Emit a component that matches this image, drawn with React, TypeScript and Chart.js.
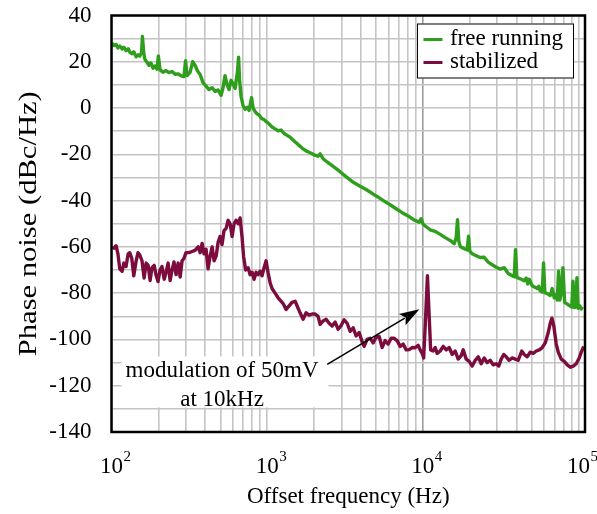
import React, { useEffect, useRef } from "react";
import { Chart, registerables } from "chart.js";

Chart.register(...registerables);

const FONT = '"Liberation Serif", "Times New Roman", serif';

// ---------- data ----------
const freeFreq = [
  101, 104, 107, 110, 113, 117, 120, 124, 128, 131,
  135, 139, 144, 148, 152, 156, 158, 161, 164, 169,
  174, 179, 185, 190, 196, 200, 205, 214, 224, 234,
  245, 256, 268, 280, 292, 299, 306, 320, 332, 344,
  357, 371, 387, 405, 423, 443, 463, 484, 506, 521,
  536, 553, 569, 586, 604, 622, 645, 655, 665, 680,
  700, 721, 743, 765, 794, 812, 836, 861, 887, 921,
  955, 991, 1029, 1075, 1124, 1175, 1229, 1285, 1343, 1404,
  1489, 1580, 1676, 1778, 1887, 2002, 2123, 2188, 2287, 2427,
  2614, 2814, 3031, 3311, 3618, 3954, 4320, 4722, 5160, 5640,
  6163, 6736, 7362, 8045, 8793, 9468, 9752, 10044, 10500, 11140,
  11995, 12922, 13910, 14981, 15890, 16368, 16690, 17010, 17370, 18430,
  19265, 19640, 20020, 20750, 22010, 23350, 24770, 26280, 27880, 29590,
  31400, 33310, 35340, 37490, 38620, 39370, 40140, 42210, 44770, 46120,
  47150, 48220, 50400, 52690, 54280, 55490, 56740, 58440, 59580, 60740,
  62930, 65790, 67760, 69800, 71900, 72970, 74400, 75830, 77420, 79390,
  81420, 83360, 85860, 88440, 90420, 92040, 93690, 95940, 97660, 99400,
  101800, 104100, 105600,
];
const freeValues = [
  28, 27, 27.5, 26, 26.8, 25.5, 26.3, 24.8, 25.6, 24.2,
  23.5, 24.3, 22.2, 23, 22.5, 24, 31, 24, 21, 19.8,
  18.5, 19.5, 17.2, 18.2, 16.8, 22.5, 16.5, 15.5, 16.2, 15.3,
  15.8, 14.6, 14.8, 13.9, 13.6, 20.5, 14, 15.5, 20, 18.5,
  16, 14.5, 11, 9.5, 8, 8.8, 7.2, 7.8, 5.5, 9,
  14, 10, 8, 12, 10.5, 8.5, 16, 22, 12, 5,
  1, -0.5, 0.3, -1, 4.5, 0, -1.5, -2.5, -3, -4.5,
  -5, -6, -6.8, -8.2, -9, -9.8, -9.5, -11, -11.8, -12.6,
  -14.2, -15.8, -17.3, -18.5, -19.3, -20.2, -20.8, -19.8, -21.9, -23.3,
  -24.9, -26.5, -28.3, -30.4, -32.3, -33.8, -35.2, -36.9, -38.5, -40.2,
  -41.8, -43.5, -45.2, -46.6, -48.4, -49.3, -47.8, -50.2, -51.3, -52.6,
  -53.3, -54.6, -56, -57.2, -58.6, -56, -48.2, -57.5, -59.8, -60.8,
  -61.3, -55.4, -61.8, -63, -63.8, -64.6, -64.5, -66.6, -67.7, -68.8,
  -69.6, -69, -71.5, -72.5, -72.9, -61.2, -73.2, -73.8, -74.6, -73.5,
  -76, -74, -76.8, -77.5, -78, -77, -79, -79.5, -66.9, -79.8,
  -80.2, -81, -78, -82, -80.5, -83, -70.5, -83, -80, -69,
  -84, -84.4, -85, -85.6, -86, -74.8, -86.2, -86, -73.3, -86.5,
  -85.5, -86.8, -85.8,
];

const stabFreq = [
  102, 107, 110, 113, 117, 120, 124, 128, 131, 135,
  139, 144, 148, 152, 157, 162, 167, 172, 177, 182,
  188, 193, 199, 205, 211, 218, 224, 231, 238, 245,
  252, 260, 268, 276, 284, 292, 301, 315, 329, 344,
  360, 371, 382, 393, 405, 417, 430, 443, 456, 470,
  484, 498, 513, 528, 545, 561, 578, 595, 613, 631,
  650, 670, 690, 705, 727, 754, 777, 800, 824, 849,
  874, 900, 927, 955, 984, 1013, 1044, 1075, 1124, 1175,
  1211, 1266, 1323, 1383, 1445, 1512, 1580, 1627, 1701, 1778,
  1859, 1944, 2032, 2123, 2188, 2287, 2391, 2499, 2614, 2732,
  2856, 2985, 3121, 3263, 3411, 3566, 3727, 3896, 4073, 4197,
  4386, 4585, 4793, 5011, 5237, 5475, 5724, 5984, 6255, 6539,
  6836, 7146, 7471, 7810, 8164, 8535, 8923, 9328, 9607, 9896,
  10120, 10420, 10700, 10980, 11220, 11650, 11995, 12360, 12922, 13510,
  14120, 14760, 15430, 16130, 16860, 17630, 18160, 18980, 19850, 20750,
  21690, 22670, 23700, 24770, 25890, 27070, 28300, 29590, 30700, 31850,
  33060, 34300, 35860, 37490, 39190, 40970, 43150, 44770, 46810, 48940,
  51160, 53480, 55910, 58440, 61090, 63870, 65790, 67450, 69270, 71900,
  74060, 77420, 80930, 84600, 88440, 92440, 96650, 101000, 104100, 108000,
];
const stabValues = [
  -61, -59.5, -63, -69.5, -70.5, -67, -68.5, -63, -62.5, -65,
  -72.5, -66, -62.5, -63.5, -66, -73.5, -67, -68, -74.5, -69,
  -68, -72, -75, -70, -68.5, -74, -71, -67, -74.5, -70,
  -66.5, -72, -67, -73, -66, -65, -62.5, -62.5, -62, -61.5,
  -60, -62.5, -58.5, -63, -61, -69.5, -64, -60, -66, -64,
  -58, -55.5, -59, -53, -52, -48.5, -50, -55.5, -50, -48.5,
  -50, -47.5, -56, -64, -70, -69, -72, -71, -74, -71,
  -72, -70.5, -72.5, -69, -66, -71, -75.5, -78, -80, -82,
  -83, -84.5, -87, -85.5, -84, -83.5, -86.5, -88.5, -91.3, -88.5,
  -89.5, -89, -89, -90, -93.5, -92, -91.3, -93, -94.2, -92.5,
  -95.6, -94, -91.5, -93, -96.5, -95, -98.5, -97, -101, -103,
  -100, -99.5, -101.5, -99, -98.7, -103.5, -100.5, -102, -99.5, -99.5,
  -100.5, -103, -102, -104.5, -104.4, -103.5, -103.6, -102.5, -104.5, -106,
  -108, -90, -72.5, -90, -104.5, -105, -103.5, -106, -105, -103,
  -104.5, -103.5, -106.5, -105, -108.5, -107, -104.5, -108.5, -109.5, -111.5,
  -109, -107.5, -110.5, -108, -110, -109, -111, -110.5, -111.5, -108.5,
  -106.5, -107.5, -109, -108, -108.5, -109, -105, -106.5, -107.5, -105.5,
  -106, -105, -104.5, -103.5, -101.5, -97, -93, -90.8, -94, -102,
  -105.5, -108.5, -109.5, -111, -112, -111.5, -110.5, -108, -105.5, -103,
];

const seriesLabels = ["free running", "stabilized"];
const seriesColors = ["#2e9e1c", "#7c0c3e"];

// axes
const xMin = 100;
const xMax = 110000;
const xDecades = [100, 1000, 10000, 100000];
const xDecadeExponents = ["2", "3", "4", "5"];
const xMinorSteps = [1, 2, 3, 4, 5, 6, 7, 8, 9];
const yMin = -140;
const yMax = 40;
const yGridStep = 10;
const yLabelStep = 20;
const xTitle = "Offset frequency (Hz)";
const yTitle = "Phase noise (dBc/Hz)";

// annotation
const annotationLines = ["modulation of 50mV", "at 10kHz"];
const annotationAnchor = { x: 513, y: -116.4 };
const arrowFrom = { x: 2430, y: -110.8 };
const arrowTo = { x: 9500, y: -87 };

const xGridValues: number[] = [];
xDecades.forEach((d) => {
  xMinorSteps.forEach((m) => {
    const v = d * m;
    if (v <= xMax && (d < 100000 || m === 1)) xGridValues.push(v);
  });
});

const decorPlugin = {
  id: "decor",
  afterDraw(chart: any) {
    const { ctx, chartArea: a, scales } = chart;
    const xs = scales.x;
    const ys = scales.y;
    ctx.save();

    // ----- annotation -----
    ctx.font = `23px ${FONT}`;
    const cx = xs.getPixelForValue(annotationAnchor.x);
    const by = ys.getPixelForValue(annotationAnchor.y);
    const lineGap = 29;
    const tw = Math.max(...annotationLines.map((t) => ctx.measureText(t).width));
    ctx.fillStyle = "#ffffff";
    ctx.fillRect(cx - tw / 2 - 4, by - 21, tw + 14, lineGap + 22);
    ctx.fillStyle = "#000000";
    ctx.textAlign = "center";
    ctx.textBaseline = "alphabetic";
    annotationLines.forEach((t, i) => ctx.fillText(t, cx, by + i * lineGap));

    // arrow
    const x0 = xs.getPixelForValue(arrowFrom.x);
    const y0 = ys.getPixelForValue(arrowFrom.y);
    const x1 = xs.getPixelForValue(arrowTo.x);
    const y1 = ys.getPixelForValue(arrowTo.y);
    const ang = Math.atan2(y1 - y0, x1 - x0);
    const headLen = 20;
    const headHalf = 6.5;
    const bx = x1 - headLen * Math.cos(ang);
    const byy = y1 - headLen * Math.sin(ang);
    ctx.strokeStyle = "#000000";
    ctx.lineWidth = 1.6;
    ctx.beginPath();
    ctx.moveTo(x0, y0);
    ctx.lineTo(bx + 3 * Math.cos(ang), byy + 3 * Math.sin(ang));
    ctx.stroke();
    ctx.beginPath();
    ctx.moveTo(x1, y1);
    ctx.lineTo(bx - headHalf * Math.sin(ang), byy + headHalf * Math.cos(ang));
    ctx.lineTo(bx + 4 * Math.cos(ang), byy + 4 * Math.sin(ang));
    ctx.lineTo(bx + headHalf * Math.sin(ang), byy - headHalf * Math.cos(ang));
    ctx.closePath();
    ctx.fillStyle = "#000000";
    ctx.fill();

    // ----- legend -----
    ctx.font = `23px ${FONT}`;
    const maxText = Math.max(...seriesLabels.map((t) => ctx.measureText(t).width));
    const lw = 6.5 + 19 + 7.5 + maxText + 11;
    const lRight = a.right - 11;
    const lTop = a.top + 8;
    const lLeft = lRight - lw;
    const lh = 55;
    ctx.fillStyle = "#ffffff";
    ctx.fillRect(lLeft, lTop, lw, lh);
    ctx.strokeStyle = "#000000";
    ctx.lineWidth = 1;
    ctx.strokeRect(lLeft + 0.5, lTop + 0.5, lw - 1, lh - 1);
    chart.data.datasets.forEach((ds: any, i: number) => {
      const yy = lTop + 16 + i * 23;
      ctx.strokeStyle = ds.borderColor;
      ctx.lineWidth = 3;
      ctx.beginPath();
      ctx.moveTo(lLeft + 6.5, yy);
      ctx.lineTo(lLeft + 25.5, yy);
      ctx.stroke();
      ctx.fillStyle = "#000000";
      ctx.textAlign = "left";
      ctx.textBaseline = "middle";
      ctx.fillText(ds.label, lLeft + 33, yy - 1);
    });

    // ----- frame -----
    ctx.strokeStyle = "#000000";
    ctx.lineWidth = 2.5;
    ctx.strokeRect(a.left, a.top, a.right - a.left, a.bottom - a.top);

    // ----- x tick labels (10^n) -----
    ctx.fillStyle = "#000000";
    ctx.textBaseline = "alphabetic";
    xDecades.forEach((d, i) => {
      const px = xs.getPixelForValue(d);
      ctx.font = `23px ${FONT}`;
      const w10 = ctx.measureText("10").width;
      ctx.textAlign = "left";
      ctx.fillText("10", px - w10 / 2, a.bottom + 41);
      ctx.font = `15px ${FONT}`;
      ctx.fillText(xDecadeExponents[i], px + w10 / 2 + 0.5, a.bottom + 29);
    });

    // ----- y title (rotated, drawn spread along its length) -----
    ctx.save();
    ctx.translate(36, (a.top + a.bottom) / 2);
    ctx.rotate(-Math.PI / 2);
    ctx.font = `26px ${FONT}`;
    const tWidth = ctx.measureText(yTitle).width;
    ctx.scale(265 / tWidth, 1);
    ctx.textAlign = "center";
    ctx.textBaseline = "alphabetic";
    ctx.fillStyle = "#000000";
    ctx.fillText(yTitle, 0, 0);
    ctx.restore();

    ctx.restore();
  },
};

export default function App() {
  const ref = useRef<HTMLCanvasElement | null>(null);

  useEffect(() => {
    if (!ref.current) return;
    const chart = new Chart(ref.current, {
      type: "line",
      data: {
        datasets: [
          {
            label: seriesLabels[0],
            data: freeFreq.map((f, i) => ({ x: f, y: freeValues[i] })),
            borderColor: seriesColors[0],
            backgroundColor: seriesColors[0],
            borderWidth: 3.4,
            pointRadius: 0,
            tension: 0,
            borderJoinStyle: "round",
          },
          {
            label: seriesLabels[1],
            data: stabFreq.map((f, i) => ({ x: f, y: stabValues[i] })),
            borderColor: seriesColors[1],
            backgroundColor: seriesColors[1],
            borderWidth: 3.4,
            pointRadius: 0,
            tension: 0,
            borderJoinStyle: "round",
          },
        ],
      },
      options: {
        animation: false,
        responsive: false,
        devicePixelRatio: 1,
        layout: { padding: { left: 0, top: 15.5, right: 12, bottom: 0 } },
        plugins: { legend: { display: false }, tooltip: { enabled: false } },
        scales: {
          x: {
            type: "logarithmic",
            min: xMin,
            max: xMax,
            afterBuildTicks: (scale: any) => {
              scale.ticks = xGridValues.map((v) => ({ value: v }));
            },
            afterFit: (scale: any) => {
              scale.height = 82;
              scale.paddingLeft = 0;
              scale.paddingRight = 0;
            },
            ticks: { display: false, autoSkip: false },
            grid: {
              drawTicks: false,
              color: (c: any) => (c.tick && c.tick.value === 10000 ? "#9c9c9c" : "#c4c4c4"),
              lineWidth: 1.6,
            },
            border: { display: false },
            title: {
              display: true,
              text: xTitle,
              color: "#000000",
              font: { family: FONT, size: 23 },
              padding: { top: 0, bottom: 3 },
            },
          },
          y: {
            type: "linear",
            min: yMin,
            max: yMax,
            afterFit: (scale: any) => {
              scale.width = 111.5;
              scale.paddingTop = 0;
              scale.paddingBottom = 0;
            },
            ticks: {
              stepSize: yGridStep,
              autoSkip: false,
              padding: 20,
              color: "#000000",
              font: { family: FONT, size: 23 },
              callback: (v: any) => (Number(v) % yLabelStep === 0 ? String(v) : ""),
            },
            grid: { drawTicks: false, color: "#c4c4c4", lineWidth: 1.6 },
            border: { display: false },
            title: { display: false, text: yTitle },
          },
        },
      },
      plugins: [decorPlugin],
    } as any);
    return () => chart.destroy();
  }, []);

  return (
    <div style={{ width: 597, height: 514, background: "#ffffff" }}>
      <style>{`body{margin:0;background:#fff}`}</style>
      <canvas ref={ref} width={597} height={514} style={{ display: "block" }} />
    </div>
  );
}
